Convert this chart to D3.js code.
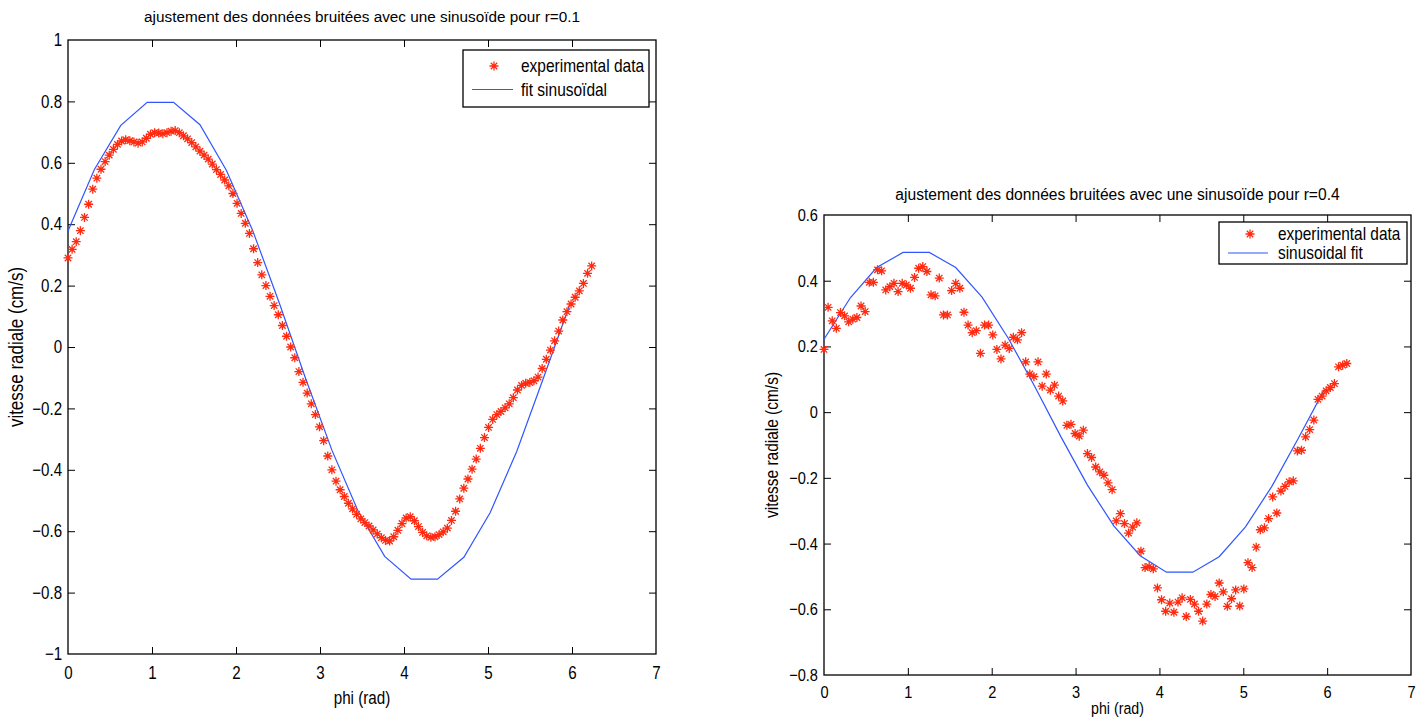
<!DOCTYPE html>
<html><head><meta charset="utf-8">
<script src="https://cdn.jsdelivr.net/npm/d3@7"></script>
<style>
body{margin:0;background:#fff}
text{font-family:"Liberation Sans",Arial,Helvetica,sans-serif;fill:#000}
</style>
</head><body>
<svg id="chart" width="1421" height="717"></svg>
<script>
// ---------- DATA ----------
const nExp = 128;                 // samples of phi in [0, 2π)
const nFit = 20;                  // fit evaluated at k·π/10
const expLeft = [0.29,0.318,0.343,0.379,0.422,0.465,0.514,0.55,0.579,0.604,0.625,0.644,0.66,0.671,0.675,0.672,0.668,0.664,0.668,0.68,
0.693,0.698,0.697,0.695,0.698,0.703,0.705,0.698,0.688,0.678,0.666,0.652,0.638,0.625,0.612,0.596,0.578,0.562,0.544,0.525,
0.5,0.468,0.435,0.403,0.37,0.32,0.275,0.235,0.2,0.165,0.135,0.105,0.07,0.035,0.0,-0.035,-0.08,-0.115,-0.15,-0.185,
-0.22,-0.26,-0.305,-0.355,-0.4,-0.437,-0.465,-0.487,-0.509,-0.527,-0.545,-0.56,-0.572,-0.583,-0.596,-0.609,-0.621,-0.63,-0.632,-0.618,
-0.597,-0.575,-0.557,-0.553,-0.566,-0.585,-0.604,-0.615,-0.62,-0.618,-0.611,-0.602,-0.59,-0.565,-0.535,-0.495,-0.46,-0.43,-0.398,-0.365,
-0.33,-0.295,-0.262,-0.236,-0.22,-0.21,-0.198,-0.185,-0.165,-0.14,-0.125,-0.118,-0.116,-0.11,-0.098,-0.07,-0.04,-0.01,0.02,0.052,
0.088,0.115,0.14,0.162,0.183,0.207,0.24,0.264];
const fitLeft = [0.378,0.578,0.722,0.797,0.797,0.724,0.576,0.379,0.145,-0.102,-0.336,-0.536,-0.682,-0.756,-0.756,-0.685,-0.539,-0.341,-0.105,0.135];

const expRight = [0.191,0.319,0.278,0.255,0.303,0.293,0.275,0.283,0.288,0.323,0.306,0.395,0.395,0.433,0.43,0.372,0.382,0.392,0.367,0.392,
0.387,0.377,0.41,0.438,0.443,0.428,0.357,0.354,0.408,0.296,0.296,0.37,0.392,0.377,0.304,0.265,0.242,0.248,0.179,0.265,
0.265,0.235,0.191,0.162,0.204,0.194,0.228,0.22,0.242,0.153,0.116,0.108,0.153,0.079,0.116,0.067,0.082,0.049,0.034,-0.04,
-0.037,-0.065,-0.073,-0.055,-0.126,-0.138,-0.167,-0.182,-0.192,-0.215,-0.236,-0.331,-0.309,-0.339,-0.368,-0.35,-0.337,-0.423,-0.473,-0.47,
-0.477,-0.535,-0.571,-0.606,-0.581,-0.609,-0.578,-0.565,-0.622,-0.57,-0.584,-0.606,-0.636,-0.584,-0.555,-0.561,-0.52,-0.547,-0.591,-0.568,
-0.541,-0.59,-0.538,-0.458,-0.473,-0.411,-0.358,-0.352,-0.324,-0.258,-0.307,-0.24,-0.226,-0.212,-0.209,-0.118,-0.116,-0.075,-0.053,-0.024,
0.039,0.049,0.065,0.075,0.087,0.138,0.143,0.148];
const fitRight = [0.222,0.348,0.44,0.486,0.486,0.44,0.35,0.224,0.078,-0.076,-0.222,-0.346,-0.437,-0.487,-0.487,-0.44,-0.349,-0.226,-0.08,0.07];

const xTicks = [0,1,2,3,4,5,6,7];
const yTicksLeft = [-1,-0.8,-0.6,-0.4,-0.2,0,0.2,0.4,0.6,0.8,1];
const yTicksRight = [-0.8,-0.6,-0.4,-0.2,0,0.2,0.4,0.6];

const titles = ["ajustement des données bruitées avec une sinusoïde pour r=0.1",
                "ajustement des données bruitées avec une sinusoïde pour r=0.4"];
const legendLabels = [["experimental data","fit sinusoïdal"],["experimental data","sinusoidal fit"]];
const xLabel = "phi (rad)";
const yLabel = "vitesse radiale (cm/s)";

const phiExp = d3.range(nExp).map(k => k * 2 * Math.PI / nExp);
const phiFit = d3.range(nFit).map(k => k * Math.PI / 10);

// ---------- DRAW ----------
const svg = d3.select("#chart");
const RED = "#ff2a10", BLUE = "#2f55ff";
const star = "M-4.5,0H4.5M0,-4.5V4.5M-3.2,-3.2L3.2,3.2M-3.2,3.2L3.2,-3.2";
const fmt = v => { const s = d3.format("~g")(Math.abs(v)); return v < 0 ? "\u2212" + s : s; };

function txt(g, x, y, s, size, sx, anchor, rot) {
  return g.append("text")
    .attr("transform", `translate(${x},${y})${rot ? ` rotate(${rot})` : ""} scale(${sx},1)`)
    .attr("text-anchor", anchor || "start")
    .style("font-size", size + "px")
    .text(s);
}

function panel(p) {
  const g = svg.append("g");
  const x = d3.scaleLinear().domain([0, 7]).range([p.x0, p.x1]);
  const y = d3.scaleLinear().domain(p.yDom).range([p.y1, p.y0]);
  const TL = 7;

  g.append("rect").attr("x", p.x0).attr("y", p.y0)
    .attr("width", p.x1 - p.x0).attr("height", p.y1 - p.y0)
    .attr("fill", "none").attr("stroke", "#000").attr("stroke-width", 1.3);

  const style = (sel, size) => {
    sel.select(".domain").remove();
    sel.selectAll(".tick line").attr("stroke", "#000").attr("stroke-width", 1);
    sel.selectAll(".tick text").style("font-size", size + "px")
      .attr("fill", "#000").attr("font-family", null);
  };
  const gb = g.append("g").attr("transform", `translate(0,${p.y1})`)
    .call(d3.axisBottom(x).tickValues(xTicks).tickSize(-TL).tickPadding(p.xPad).tickFormat(fmt));
  style(gb, p.tickF); gb.selectAll(".tick text").attr("transform", `scale(${p.tickSx},1)`);
  const gt = g.append("g").attr("transform", `translate(0,${p.y0})`)
    .call(d3.axisTop(x).tickValues(xTicks).tickSize(-TL).tickFormat(""));
  style(gt, p.tickF);
  const gl = g.append("g").attr("transform", `translate(${p.x0},0)`)
    .call(d3.axisLeft(y).tickValues(p.yTicks).tickSize(-TL).tickPadding(p.yPad).tickFormat(fmt));
  style(gl, p.tickF); gl.selectAll(".tick text").attr("transform", `scale(${p.tickSx},1)`);
  const gr = g.append("g").attr("transform", `translate(${p.x1},0)`)
    .call(d3.axisRight(y).tickValues(p.yTicks).tickSize(-TL).tickFormat(""));
  style(gr, p.tickF);
  [gb, gt].forEach(a => a.selectAll(".tick").filter(d => d === 0 || d === 7).select("line").remove());
  [gl, gr].forEach(a => a.selectAll(".tick").filter(d => d === p.yDom[0] || d === p.yDom[1]).select("line").remove());

  g.append("path").datum(p.fit)
    .attr("d", d3.line().x((d, i) => x(phiFit[i])).y(d => y(d)))
    .attr("fill", "none").attr("stroke", BLUE).attr("stroke-width", 1.2);

  g.append("g").selectAll("path").data(p.exp).join("path")
    .attr("transform", (d, i) => `translate(${x(phiExp[i])},${y(d)})`)
    .attr("d", star).attr("fill", "none").attr("stroke", RED).attr("stroke-width", 1.3);

  txt(g, (p.x0 + p.x1) / 2, p.titleY, p.title, p.titleF, 1, "middle");
  txt(g, (p.x0 + p.x1) / 2, p.xLabY, xLabel, p.labF, p.labSx, "middle");
  txt(g, p.yLabX, (p.y0 + p.y1) / 2, yLabel, p.yLabF, p.labSx, "middle", -90);

  const L = p.leg;
  g.append("rect").attr("x", L.x0).attr("y", L.y0).attr("width", L.x1 - L.x0).attr("height", L.y1 - L.y0)
    .attr("fill", "#fff").attr("stroke", "#000").attr("stroke-width", 1.3);
  g.append("path").attr("transform", `translate(${L.mx},${L.r1})`).attr("d", star)
    .attr("fill", "none").attr("stroke", RED).attr("stroke-width", 1.3);
  g.append("line").attr("x1", L.lx0).attr("x2", L.lx1).attr("y1", L.r2).attr("y2", L.r2)
    .attr("stroke", BLUE).attr("stroke-width", 1.2);
  txt(g, L.tx, L.r1 + 6, p.legend[0], p.legF, p.legSx);
  txt(g, L.tx, L.r2 + 6, p.legend[1], p.legF, p.legSx);
}

panel({
  x0: 68, x1: 656, y0: 40, y1: 654, yDom: [-1, 1], yTicks: yTicksLeft,
  exp: expLeft, fit: fitLeft, title: titles[0], legend: legendLabels[0],
  tickF: 18, tickSx: 0.84, xPad: 12, yPad: 7,
  titleF: 15.3, titleY: 22, xLabY: 704, yLabX: 23, labF: 17.5, yLabF: 19.5, labSx: 0.87,
  legF: 17.5, legSx: 0.885,
  leg: { x0: 463, x1: 649, y0: 50, y1: 107, mx: 494, r1: 66, r2: 89.5, lx0: 472, lx1: 513, tx: 521 }
});

panel({
  x0: 824, x1: 1411, y0: 215, y1: 675, yDom: [-0.8, 0.6], yTicks: yTicksRight,
  exp: expRight, fit: fitRight, title: titles[1], legend: legendLabels[1],
  tickF: 17, tickSx: 0.86, xPad: 11, yPad: 7,
  titleF: 15.6, titleY: 200, xLabY: 714, yLabX: 778, labF: 16.5, yLabF: 18, labSx: 0.86,
  legF: 17.5, legSx: 0.88,
  leg: { x0: 1219, x1: 1407, y0: 222, y1: 264, mx: 1250, r1: 234, r2: 253, lx0: 1228, lx1: 1268, tx: 1278 }
});
</script>
</body></html>
